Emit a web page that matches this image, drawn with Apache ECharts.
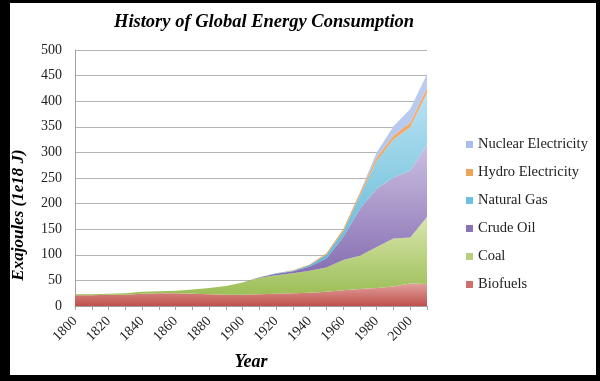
<!DOCTYPE html>
<html><head><meta charset="utf-8">
<script src="https://cdn.jsdelivr.net/npm/echarts@6/dist/echarts.min.js"></script>
<style>
html,body{margin:0;padding:0;background:#000;width:600px;height:381px;overflow:hidden}
#c{position:absolute;left:10px;top:3px;width:586px;height:372px;background:#fff}
</style></head><body><div id="c"></div>
<script>
var years = ['1800','1810','1820','1830','1840','1850','1860','1870','1880','1890','1900','1910','1920','1930','1940','1950','1960','1970','1980','1990','2000','2010'];
var biofuels = [21,21,22,22,24,25,25,24,23,22,22,23,24,25,26,28,31,33,35,38,44,43];
var coal     = [2,2,2,3,4,4,5,8,12,17,24,32,36,39,43,47,59,65,80,94,90,131];
var crudeOil = [0,0,0,0,0,0,0,0,0,0,0,1,3,4,8,18,45,92,114,119,130,142];
var naturalGas = [0,0,0,0,0,0,0,0,0,0,0,0,1,1,3,7,11,26,54,74,85,100];
var hydro    = [0,0,0,0,0,0,0,0,0,0,0,0,0,1,1,3,4,5,7,8,9,10];
var nuclear  = [0,0,0,0,0,0,0,0,0,0,0,0,0,0,0,0,0,1,10,18,27,27];
var yTicks = [0,50,100,150,200,250,300,350,400,450,500];

var serif = '"Liberation Serif", "DejaVu Serif", serif';
function grad(top, bottom){
  return new echarts.graphic.LinearGradient(0,0,0,1,[{offset:0,color:top},{offset:1,color:bottom}]);
}
function s(name, data, top, bottom, legendColor){
  return {name:name, type:'line', stack:'total', data:data, symbol:'none', smooth:false,
    lineStyle:{width:0}, itemStyle:{color:legendColor},
    areaStyle:{color:grad(top,bottom), opacity:1}};
}
var chart = echarts.init(document.getElementById('c'), null, {renderer:'canvas'});
chart.setOption({
  animation:false,
  backgroundColor:'#fff',
  title:{text:'History of Global Energy Consumption', left:99, top:5,
    textStyle:{fontFamily:serif, fontSize:18.5, fontWeight:'bold', fontStyle:'italic', color:'#000'}},
  grid:{left:65, right:169, top:47, bottom:69, containLabel:false, outerBoundsMode:'none'},
  legend:{orient:'vertical', left:451, top:129, itemWidth:7, itemHeight:7, itemGap:13,
    icon:'rect',
    data:['Nuclear Electricity','Hydro Electricity','Natural Gas','Crude Oil','Coal','Biofuels'],
    textStyle:{fontFamily:serif, fontSize:14.5, color:'#222'}},
  xAxis:{type:'category', data:years, boundaryGap:false,
    name:'Year', nameLocation:'middle', nameGap:47,
    nameTextStyle:{fontFamily:serif, fontSize:18, fontWeight:'bold', fontStyle:'italic', color:'#000'},
    axisLine:{lineStyle:{color:'#a0a0a0', width:1}},
    axisTick:{show:true, interval:0, length:4, lineStyle:{color:'#a0a0a0'}},
    axisLabel:{interval:1, rotate:45, margin:13, fontFamily:serif, fontSize:14, color:'#222'},
    splitLine:{show:false}},
  yAxis:{type:'value', min:0, max:500, interval:50,
    axisLine:{show:true, lineStyle:{color:'#a0a0a0'}},
    axisTick:{show:false},
    axisLabel:{margin:13, fontFamily:serif, fontSize:14, color:'#222',
      formatter:function(v){return yTicks.indexOf(v)>=0?String(v):'';}},
    splitLine:{lineStyle:{color:'#b4b4b4', width:1}}},
  graphic:[{type:'text', x:9, y:212, rotation:Math.PI/2,
    style:{text:'Exajoules (1e18 J)', fill:'#000', font:'italic bold 17px '+serif,
      textAlign:'center', textVerticalAlign:'middle'}}],
  series:[
    s('Biofuels', biofuels, '#e2a09c', '#c0504d', '#cf6f6b'),
    s('Coal', coal, '#d9e6ad', '#9cbe57', '#b5cf7c'),
    s('Crude Oil', crudeOil, '#cbc0e2', '#7c62aa', '#8a72b6'),
    s('Natural Gas', naturalGas, '#b8e2f3', '#4fb0cf', '#6cc0e0'),
    s('Hydro Electricity', hydro, '#f4ac68', '#ef9e52', '#f2a35a'),
    s('Nuclear Electricity', nuclear, '#bccdf0', '#a9bce8', '#a9bde8')
  ]
});
</script></body></html>
